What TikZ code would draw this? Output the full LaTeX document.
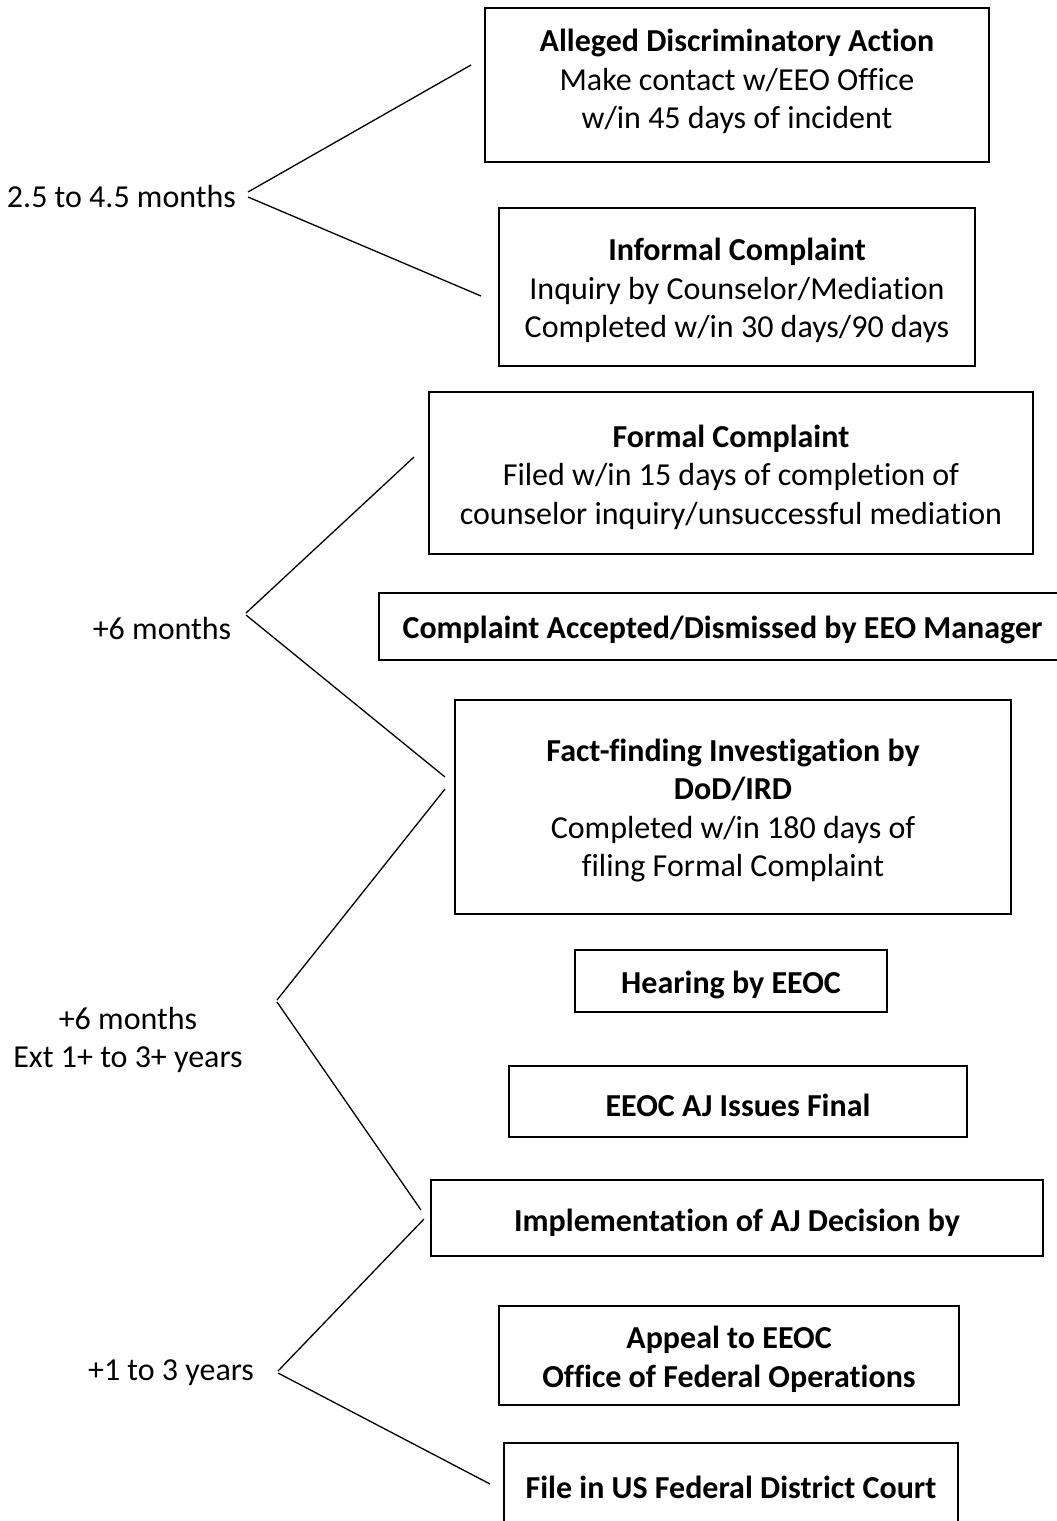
\documentclass[tikz,border=0pt]{standalone}
\usepackage{fontspec}
\setmainfont{Carlito}[Ligatures=NoCommon]
\begin{document}
\begin{tikzpicture}[x=1pt,y=-1pt,
  box/.style={draw=black,line width=2.6pt,rectangle,inner sep=0pt},
  txt/.style={align=center,inner sep=0pt,font=\fontsize{32}{38.5}\selectfont},
  lbl/.style={align=center,inner sep=0pt,font=\fontsize{32}{38.5}\selectfont},
  brk/.style={draw=black,line width=1.3pt}]
\useasboundingbox (0,0) rectangle (1057,1521);
\clip (0,0) rectangle (1057,1521);
\fill[white] (0,0) rectangle (1057,1521);
% boxes
\node[box,minimum width=504pt,minimum height=154pt] (b1) at (737,85) {};
\node[box,minimum width=476pt,minimum height=158pt] (b2) at (737,287) {};
\node[box,minimum width=604pt,minimum height=162pt] (b3) at (731,473) {};
\node[box,minimum width=687pt,minimum height=67pt] (b4) at (722.5,626.5) {};
\node[box,minimum width=556pt,minimum height=214pt] (b5) at (733,807) {};
\node[box,minimum width=312pt,minimum height=62pt] (b6) at (731,981) {};
\node[box,minimum width=458pt,minimum height=71pt] (b7) at (738,1101.5) {};
\node[box,minimum width=612pt,minimum height=76pt] (b8) at (737,1218) {};
\node[box,minimum width=460pt,minimum height=99pt] (b9) at (729,1355.5) {};
\node[box,minimum width=454pt,minimum height=82pt] (b10) at (731,1484) {};
% box texts
\node[txt] (t1) at (737,81.5) {\textbf{Alleged Discriminatory Action}\\Make contact w/EEO Office\\w/in 45 days of incident};
\node[txt] (t2) at (737,290.5) {\textbf{Informal Complaint}\\Inquiry by Counselor/Mediation\\Completed w/in 30 days/90 days};
\node[txt] (t3) at (731,477) {\textbf{Formal Complaint}\\Filed w/in 15 days of completion of\\counselor inquiry/unsuccessful mediation};
\node[txt] (t4) at (722.5,630) {\textbf{Complaint Accepted/Dismissed by EEO Manager}};
\node[txt] (t5) at (733,810.5) {\textbf{Fact-finding Investigation by}\\\textbf{DoD/IRD}\\Completed w/in 180 days of\\filing Formal Complaint};
\node[txt] (t6) at (731,985) {\textbf{Hearing by EEOC}};
\node[txt] (t7) at (738,1105) {\textbf{EEOC AJ Issues Final}};
\node[txt] (t8) at (737,1223) {\textbf{Implementation of AJ Decision by}};
\node[txt] (t9) at (729,1359.5) {\textbf{Appeal to EEOC}\\\textbf{Office of Federal Operations}};
\node[txt] (t10) at (731,1487) {\textbf{File in US Federal District Court}};
% labels
\node[lbl] (l1) at (121.5,197) {2.5 to 4.5 months};
\node[lbl] (l2) at (162,628) {+6 months};
\node[lbl] (l3) at (128,1040) {+6 months\\Ext 1+ to 3+ years};
\node[lbl] (l4) at (171,1373) {+1 to 3 years};
% bracket points
\coordinate (p1a) at (248,192); \coordinate (p1b) at (248,197);
\coordinate (e1a) at (471,65);  \coordinate (e1b) at (481,296);
\coordinate (p2a) at (246,613); \coordinate (p2b) at (246,615);
\coordinate (e2a) at (414,457); \coordinate (e2b) at (445,777);
\coordinate (p3a) at (277,1000); \coordinate (p3b) at (277,1002);
\coordinate (e3a) at (445,789); \coordinate (e3b) at (421,1210);
\coordinate (p4a) at (278,1371); \coordinate (p4b) at (278,1373);
\coordinate (e4a) at (424,1219); \coordinate (e4b) at (490,1484);
\draw[brk] (p1a) -- (e1a);
\draw[brk] (p1b) -- (e1b);
\draw[brk] (p2a) -- (e2a);
\draw[brk] (p2b) -- (e2b);
\draw[brk] (p3a) -- (e3a);
\draw[brk] (p3b) -- (e3b);
\draw[brk] (p4a) -- (e4a);
\draw[brk] (p4b) -- (e4b);
\end{tikzpicture}
\end{document}
